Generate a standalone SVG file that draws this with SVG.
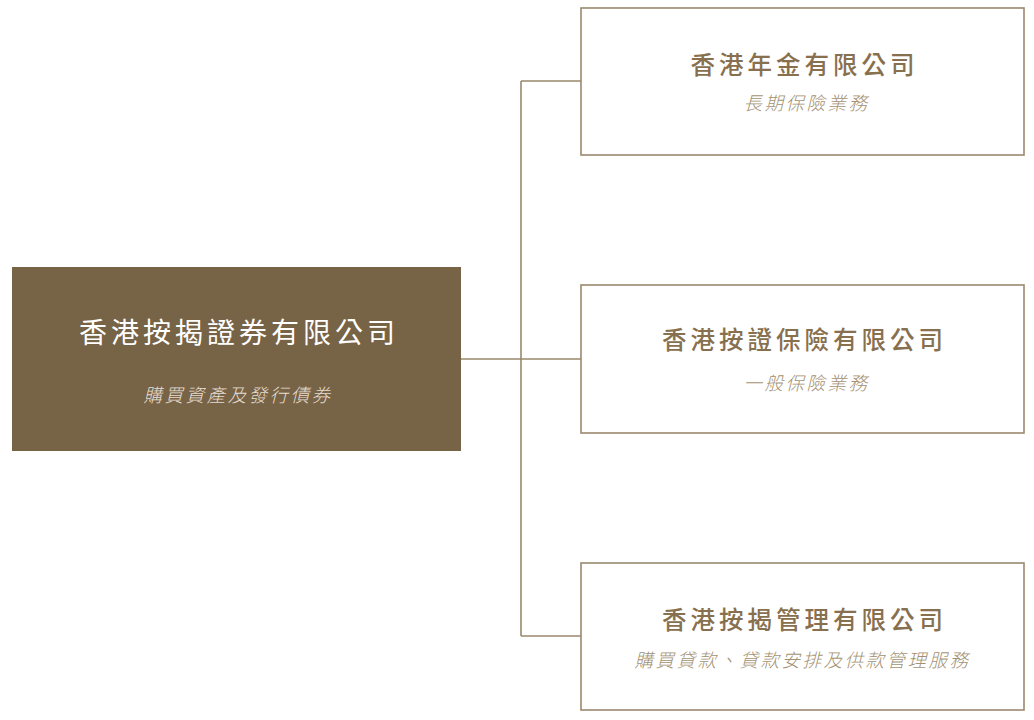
<svg xmlns="http://www.w3.org/2000/svg" width="1034" height="720" viewBox="0 0 1034 720">
<style>
.box{fill:#ffffff;stroke:#9a896d;stroke-width:1.6}
.main{fill:#776346}
.t{font-family:"Noto Sans CJK TC","Noto Sans CJK SC",sans-serif;text-anchor:middle}
.mt{fill:#ffffff;font-size:28px;letter-spacing:4px}
.ms{fill:#e6ddd0;font-size:18.5px;letter-spacing:2.5px;font-style:italic;font-weight:300}
.rt{fill:#88704f;font-size:24.5px;letter-spacing:4px;font-weight:500}
.rs{fill:#a39274;font-size:18.5px;letter-spacing:2.5px;font-style:italic;font-weight:300}
.c{fill:none;stroke:#9a896d;stroke-width:1.6}
</style>
<rect width="1034" height="720" fill="#ffffff"/>
<g id="connectors">
<path class="c" d="M461 359H521M521 81V636M521 81H581M521 359H581M521 636H581"/>
</g>
<g id="node-main">
<rect class="main" x="12" y="267" width="449" height="184"/>
<text class="t mt" x="239" y="343">香港按揭證券有限公司</text>
<text class="t ms" x="238" y="402">購買資產及發行債券</text>
</g>
<g id="node-annuity">
<rect class="box" x="581" y="8" width="443" height="147"/>
<text class="t rt" x="804.5" y="74">香港年金有限公司</text>
<text class="t rs" x="806.5" y="110">長期保險業務</text>
</g>
<g id="node-insurance">
<rect class="box" x="581" y="285" width="443" height="148"/>
<text class="t rt" x="804.5" y="349">香港按證保險有限公司</text>
<text class="t rs" x="806.5" y="390">一般保險業務</text>
</g>
<g id="node-management">
<rect class="box" x="581" y="563" width="443" height="147"/>
<text class="t rt" x="804.5" y="629">香港按揭管理有限公司</text>
<text class="t rs" x="802.5" y="667">購買貸款、貸款安排及供款管理服務</text>
</g>
</svg>
